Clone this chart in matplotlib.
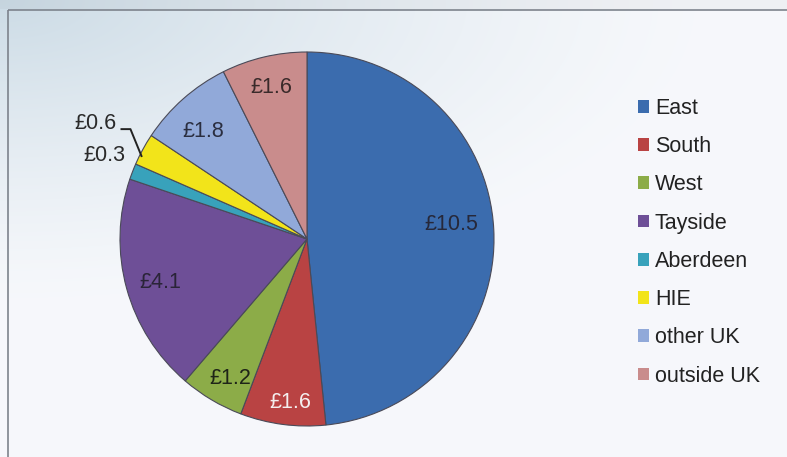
import numpy as np
import matplotlib.pyplot as plt
from matplotlib.patches import Rectangle

plt.rcParams['font.family'] = ['Liberation Sans', 'DejaVu Sans']

regions = ['East', 'South', 'West', 'Tayside', 'Aberdeen', 'HIE', 'other UK', 'outside UK']
values = [10.5, 1.6, 1.2, 4.1, 0.3, 0.6, 1.8, 1.6]
labels = ['£10.5', '£1.6', '£1.2', '£4.1', '£0.3', '£0.6', '£1.8', '£1.6']
colors = ['#3b6cae', '#b94343', '#8cac48', '#6e4f97', '#38a2bb', '#f2e41a', '#91a9d9', '#c98c8c']

# label placement per slice: radius and small angle nudge (degrees)
lab_r = [0.775, 0.88, 0.85, 0.82, 1.17, 1.29, 0.80, 0.83]
lab_da = [3, 1.5, 2, 1, -1.2, 0, 2.5, 0]
lab_col = ['#26283a', '#f4eeee', '#1e2418', '#2a2438', '#2a2a2a', '#2a2a2a', '#2a2e40', '#3a2a2a']

fig = plt.figure(figsize=(7.87, 4.57), dpi=100)
fig.patch.set_facecolor('#eef1f6')

# background with soft gradient, bluish in the top-left
bg = fig.add_axes([0, 0, 1, 1])
bg.set_xlim(0, 787)
bg.set_ylim(457, 0)
bg.axis('off')
yy, xx = np.mgrid[0:457, 0:787]
grad = np.clip(1 - np.hypot(xx / 700, yy / 300), 0, 1)
base = np.array([0.965, 0.972, 0.985])
tint = np.array([0.80, 0.86, 0.90])
img = base + (tint - base) * grad[..., None] ** 1.3
img[yy < 9] = img[yy < 9] * 0.97
bg.imshow(img, extent=[0, 787, 457, 0], aspect='auto')
bg.add_patch(Rectangle((7.5, 9.5), 800, 460, fill=False, edgecolor='#7d838c', lw=1.2))

# pie
cx, cy, rad = 307, 239, 187
ax = fig.add_axes([(cx - rad) / 787, (457 - cy - rad) / 457, 2 * rad / 787, 2 * rad / 457])
wedges, _ = ax.pie(values, colors=colors, startangle=90, counterclock=False,
                   wedgeprops=dict(edgecolor='#4a4a58', linewidth=0.8))
ax.set_xlim(-1, 1)
ax.set_ylim(-1, 1)
ax.set_aspect('equal')
ax.axis('off')

for w, lab, r, da, c in zip(wedges, labels, lab_r, lab_da, lab_col):
    mid = np.deg2rad((w.theta1 + w.theta2) / 2 + da)
    ax.text(r * np.cos(mid), r * np.sin(mid), lab, ha='center', va='center',
            fontsize=15.5, color=c, clip_on=False)

# leader line for HIE label
w = wedges[5]
mid = np.deg2rad((w.theta1 + w.theta2) / 2 + 2)
px, py = 0.99 * np.cos(mid), 0.99 * np.sin(mid)
ax.plot([px, px - 0.059, px - 0.107], [py, py + 0.144, py + 0.144], color='#222222',
        lw=1.4, clip_on=False)

# legend
handles = [Rectangle((0, 0), 1, 1, facecolor=c, edgecolor='none') for c in colors]
fig.legend(handles, regions, loc='upper left', bbox_to_anchor=(638 / 787, 1 - 98 / 457),
           frameon=False, fontsize=15.5, handlelength=0.53, handleheight=0.53,
           handletextpad=0.25, labelspacing=0.80, borderpad=0, borderaxespad=0,
           labelcolor='#222222')

fig.savefig('out.png', dpi=100)
